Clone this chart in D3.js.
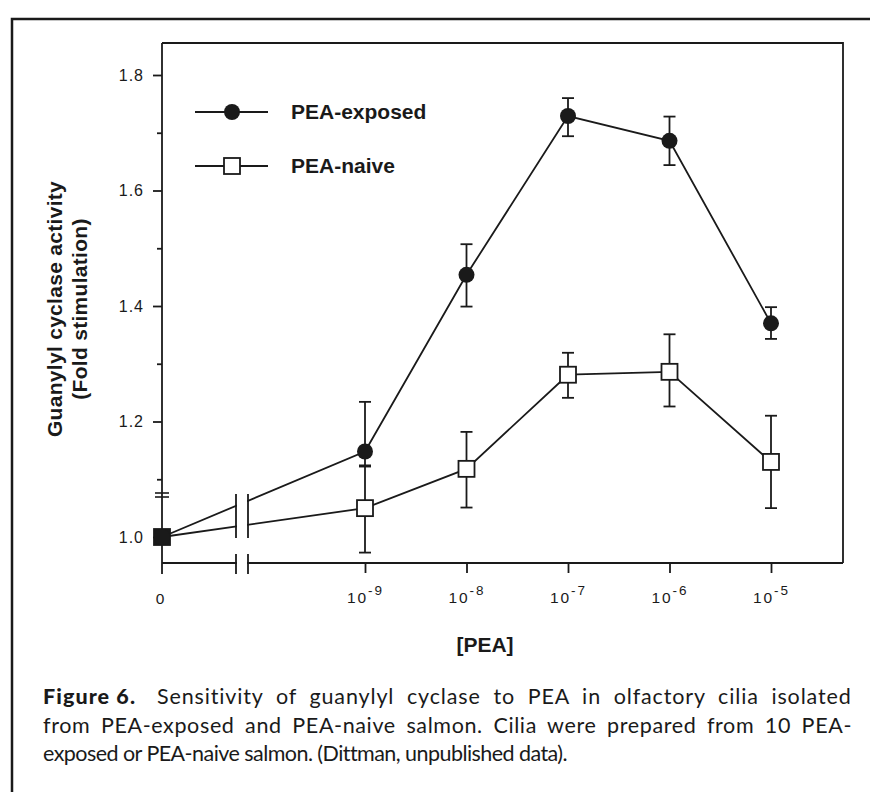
<!DOCTYPE html>
<html>
<head>
<meta charset="utf-8">
<script src="https://cdn.jsdelivr.net/npm/d3@7/dist/d3.min.js"></script>
<style>
body { margin: 0; background: #fff; }
svg { display: block; }
.tick text { font-family: "Liberation Sans", Arial, sans-serif; fill: #1a1a1a; }
</style>
</head>
<body>
<svg width="870" height="792"></svg>
<script>

// data
var concs = [0, 1e-9, 1e-8, 1e-7, 1e-6, 1e-5];
var exposed   = [1.0, 1.148, 1.454, 1.729, 1.686, 1.370];
var exposedHi = [null, 1.234, 1.507, 1.760, 1.728, 1.398];
var exposedLo = [null, 1.122, 1.399, 1.694, 1.644, 1.343];
var naive     = [1.0, 1.050, 1.118, 1.281, 1.286, 1.130];
var naiveHi   = [null, 1.124, 1.182, 1.319, 1.351, 1.210];
var naiveLo   = [null, 0.973, 1.051, 1.241, 1.226, 1.050];

var yTicks = [1.0, 1.2, 1.4, 1.6, 1.8];
var yMinor = [1.1, 1.3, 1.5, 1.7];
var xTicks = [1e-9, 1e-8, 1e-7, 1e-6, 1e-5];
var xTickExp = ["-9", "-8", "-7", "-6", "-5"];
var seriesNames = ["PEA-exposed", "PEA-naive"];
var yTitle = ["Guanylyl cyclase activity", "(Fold stimulation)"];
var xTitle = "[PEA]";
var captionBold = "Figure 6.";
var captionLines = [
    "Sensitivity of guanylyl cyclase to PEA in olfactory cilia isolated",
    "from PEA-exposed and PEA-naive salmon. Cilia were prepared from 10 PEA-",
    "exposed or PEA-naive salmon. (Dittman, unpublished data)."
];

var svg = d3.select("svg"),
    ink = "#1a1a1a",
    box = {left: 162, right: 843, top: 43, bottom: 563},
    gap = {l: 236, r: 248};

// "0" (control) sits on the log axis at the 1e-11 slot
var x = d3.scaleLog().domain([1e-11, 1e-5]).range([box.left, 771]);
var y = d3.scaleLinear().domain([1.0, 1.8]).range([537, 75]);
function xPos(c) { return c === 0 ? x(1e-11) : x(c); }

// outer frame of the figure panel
svg.append("path")
    .attr("d", "M12,792V19H870")
    .attr("fill", "none")
    .attr("stroke", ink)
    .attr("stroke-width", 2.5);

// plot box (top/right) and axes
svg.append("path")
    .attr("d", "M" + box.left + "," + box.top + "H" + box.right + "V" + box.bottom)
    .attr("fill", "none")
    .attr("stroke", ink)
    .attr("stroke-width", 1.8);

svg.append("line")
    .attr("x1", box.left).attr("x2", box.left)
    .attr("y1", box.top).attr("y2", 574)
    .attr("stroke", ink).attr("stroke-width", 1.8);

svg.append("line")
    .attr("x1", box.left).attr("x2", box.right)
    .attr("y1", box.bottom).attr("y2", box.bottom)
    .attr("stroke", ink).attr("stroke-width", 1.8);

var yAxis = svg.append("g")
    .attr("transform", "translate(" + box.left + ",0)")
    .call(d3.axisLeft(y).tickValues(yTicks).tickSize(9).tickPadding(9)
        .tickFormat(d3.format(".1f")));
yAxis.select(".domain").remove();
yAxis.selectAll(".tick line").attr("stroke", ink).attr("stroke-width", 1.8);
yAxis.selectAll(".tick text")
    .style("font-size", "16px")
    .style("letter-spacing", "1px");

var yAxisMinor = svg.append("g")
    .attr("transform", "translate(" + box.left + ",0)")
    .call(d3.axisLeft(y).tickValues(yMinor).tickSize(5).tickFormat(""));
yAxisMinor.select(".domain").remove();
yAxisMinor.selectAll(".tick line").attr("stroke", ink).attr("stroke-width", 1.8);

var xAxis = svg.append("g")
    .attr("transform", "translate(0," + box.bottom + ")")
    .call(d3.axisBottom(x).tickValues(xTicks).tickSize(10).tickFormat(""));
xAxis.select(".domain").remove();
xAxis.selectAll(".tick line").attr("stroke", ink).attr("stroke-width", 1.8);

xAxis.selectAll(".tick")
    .append("text")
    .attr("y", 40)
    .attr("text-anchor", "middle")
    .style("font-size", "15.5px")
    .style("letter-spacing", "2px")
    .each(function (d, i) {
        var t = d3.select(this);
        t.append("tspan").text("10");
        t.append("tspan").attr("dy", -8).style("font-size", "13.5px").text(xTickExp[i]);
    });

svg.append("text")
    .attr("x", xPos(0) - 2)
    .attr("y", box.bottom + 41)
    .attr("text-anchor", "middle")
    .style("font-family", "Liberation Sans, Arial, sans-serif")
    .style("font-size", "15.5px")
    .attr("fill", ink)
    .text("0");

// y axis break mark
[493, 497].forEach(function (yy) {
    svg.append("line")
        .attr("x1", box.left - 7).attr("x2", box.left + 7)
        .attr("y1", yy).attr("y2", yy)
        .attr("stroke", ink).attr("stroke-width", 1.6);
});

// series lines
var line = d3.line()
    .x(function (d) { return xPos(d.c); })
    .y(function (d) { return y(d.v); });

function pts(vals, lo, hi) {
    return vals.map(function (v, i) { return {c: concs[i], v: v, lo: lo[i], hi: hi[i], i: i}; });
}
var exPts = pts(exposed, exposedLo, exposedHi);
var naPts = pts(naive, naiveLo, naiveHi);

[exPts, naPts].forEach(function (s) {
    svg.append("path")
        .datum(s)
        .attr("d", line)
        .attr("fill", "none")
        .attr("stroke", ink)
        .attr("stroke-width", 1.8);
});

// cut the axis break gap out of the lines and the bottom axis
svg.append("rect")
    .attr("x", gap.l + 1).attr("width", gap.r - gap.l - 2)
    .attr("y", 480).attr("height", 95)
    .attr("fill", "#fff");

[gap.l, gap.r].forEach(function (gx) {
    svg.append("line")
        .attr("x1", gx).attr("x2", gx).attr("y1", 494).attr("y2", 538)
        .attr("stroke", ink).attr("stroke-width", 1.8);
    svg.append("line")
        .attr("x1", gx).attr("x2", gx).attr("y1", 554).attr("y2", 574)
        .attr("stroke", ink).attr("stroke-width", 1.8);
});

// error bars
function errorBars(s) {
    var g = svg.append("g").attr("stroke", ink).attr("stroke-width", 1.8);
    s.filter(function (d) { return d.lo != null; }).forEach(function (d) {
        var cx = xPos(d.c);
        g.append("line").attr("x1", cx).attr("x2", cx).attr("y1", y(d.lo)).attr("y2", y(d.hi));
        g.append("line").attr("x1", cx - 6).attr("x2", cx + 6).attr("y1", y(d.lo)).attr("y2", y(d.lo));
        g.append("line").attr("x1", cx - 6).attr("x2", cx + 6).attr("y1", y(d.hi)).attr("y2", y(d.hi));
    });
}
errorBars(exPts);
errorBars(naPts);

// markers: open squares for naive (control point is shared and drawn solid)
svg.append("g")
    .selectAll("rect")
    .data(naPts)
    .enter().append("rect")
    .attr("x", function (d) { return xPos(d.c) - 8; })
    .attr("y", function (d) { return y(d.v) - 8; })
    .attr("width", 16).attr("height", 16)
    .attr("fill", function (d) { return d.i === 0 ? ink : "#fff"; })
    .attr("stroke", ink)
    .attr("stroke-width", 1.8);

svg.append("g")
    .selectAll("circle")
    .data(exPts)
    .enter().append("circle")
    .attr("cx", function (d) { return xPos(d.c); })
    .attr("cy", function (d) { return y(d.v); })
    .attr("r", 8)
    .attr("fill", ink);

// legend
var legend = svg.append("g");
seriesNames.forEach(function (name, i) {
    var ly = 112 + i * 54;
    legend.append("line")
        .attr("x1", 195).attr("x2", 268).attr("y1", ly).attr("y2", ly)
        .attr("stroke", ink).attr("stroke-width", 1.8);
    if (i === 0) {
        legend.append("circle").attr("cx", 232).attr("cy", ly).attr("r", 8).attr("fill", ink);
    } else {
        legend.append("rect").attr("x", 224).attr("y", ly - 8).attr("width", 16).attr("height", 16)
            .attr("fill", "#fff").attr("stroke", ink).attr("stroke-width", 1.8);
    }
    legend.append("text")
        .attr("x", 291).attr("y", ly + 7)
        .style("font-family", "Liberation Sans, Arial, sans-serif")
        .style("font-weight", "bold")
        .style("font-size", "21px")
        .attr("fill", ink)
        .text(name);
});

// axis titles
yTitle.forEach(function (t, i) {
    svg.append("text")
        .attr("transform", "translate(" + (62 + i * 25) + ",309) rotate(-90)")
        .attr("text-anchor", "middle")
        .style("font-family", "Liberation Sans, Arial, sans-serif")
        .style("font-weight", "bold")
        .style("font-size", "21px")
        .style("letter-spacing", "0.3px")
        .attr("fill", ink)
        .text(t);
});

svg.append("text")
    .attr("x", 485).attr("y", 652)
    .attr("text-anchor", "middle")
    .style("font-family", "Liberation Sans, Arial, sans-serif")
    .style("font-weight", "bold")
    .style("font-size", "21px")
    .attr("fill", ink)
    .text(xTitle);

// caption: lines 1-2 justified, line 3 left ragged
var capFont = "Lato, 'Open Sans', sans-serif";
svg.append("text")
    .attr("x", 43).attr("y", 704)
    .attr("textLength", 92)
    .attr("lengthAdjust", "spacing")
    .style("font-family", capFont)
    .style("font-weight", "900")
    .style("font-size", "21.5px")
    .attr("fill", ink)
    .text(captionBold);

var capX = [157, 43, 43],
    capEnd = [852, 852, 535];

captionLines.forEach(function (t, i) {
    var txt = svg.append("text")
        .attr("x", capX[i]).attr("y", 704 + i * 28.5)
        .style("font-family", capFont)
        .style("font-size", "21.5px")
        .attr("fill", ink)
        .text(t);
    var w = txt.node().getComputedTextLength();
    var extra = capEnd[i] - capX[i] - w;
    if (i < 2) {
        // spread the slack over word gaps and letters
        var spaces = t.split(" ").length - 1;
        txt.style("letter-spacing", (extra * 0.5 / t.length) + "px")
            .style("word-spacing", (extra * 0.5 / spaces) + "px");
    } else {
        txt.style("letter-spacing", (extra * 0.5 / t.length) + "px");
    }
});

</script>
</body>
</html>
